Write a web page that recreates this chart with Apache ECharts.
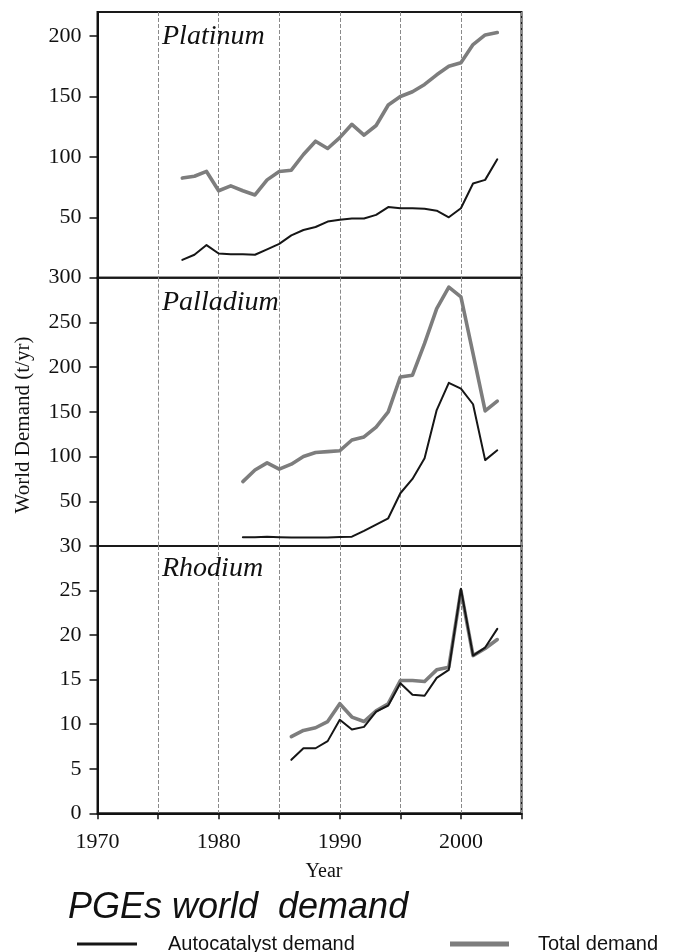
<!DOCTYPE html>
<html>
<head>
<meta charset="utf-8">
<script src="https://cdn.jsdelivr.net/npm/echarts@6/dist/echarts.min.js"></script>
<style>
  html, body { margin: 0; padding: 0; background: #fff; }
  #chart { width: 678px; height: 952px; }
</style>
</head>
<body>
<div id="chart"></div>
<script>
// World demand for platinum-group elements, tonnes per year
const platinumYears = [1977,1978,1979,1980,1981,1982,1983,1984,1985,1986,1987,1988,1989,1990,1991,1992,1993,1994,1995,1996,1997,1998,1999,2000,2001,2002,2003];
const platinumTotal = [82.5,84,88,72,76,72,68.5,81,88,89,102,113,107,116,127,118,126,143,150,154,160,168,175,178,193,201,203];
const platinumAuto  = [14.7,19,27,20,19.5,19.5,19,23.5,28,35,39.5,42,46.5,48,49,49,52,58.5,57.5,57.5,57,55.5,50,57.5,78,81,98];

const palladiumYears = [1982,1983,1984,1985,1986,1987,1988,1989,1990,1991,1992,1993,1994,1995,1996,1997,1998,1999,2000,2001,2002,2003];
const palladiumTotal = [72,85,93,86,91.5,100,104.5,105.5,106.5,118.5,122,133,150,189,191,226.5,265.5,289.5,278.5,215,151,162];
const palladiumAuto  = [9.7,9.7,10.4,9.9,9.4,9.4,9.4,9.4,10,10.4,17,24,31,59,75,98,152,182.5,176,158.5,96,107];

const rhodiumYears = [1986,1987,1988,1989,1990,1991,1992,1993,1994,1995,1996,1997,1998,1999,2000,2001,2002,2003];
const rhodiumTotal = [8.6,9.3,9.6,10.3,12.3,10.8,10.3,11.5,12.3,14.9,14.9,14.8,16.1,16.4,25,17.7,18.5,19.5];
const rhodiumAuto  = [6,7.3,7.3,8.1,10.5,9.4,9.7,11.4,12.1,14.6,13.3,13.2,15.2,16.1,25.2,17.7,18.6,20.7];

const panelNames = ['Platinum', 'Palladium', 'Rhodium'];
const yMax = [220, 300, 30];
const yTickValues = [[50,100,150,200], [50,100,150,200,250,300], [0,5,10,15,20,25,30]];
const xTickLabels = [1970, 1980, 1990, 2000];

const AUTO_NAME = 'Autocatalyst demand';
const TOTAL_NAME = 'Total demand';

const SERIF = '"Liberation Serif", "Times New Roman", serif';
const SANS = '"Liberation Sans", Arial, sans-serif';

function pairs(xs, ys) { return xs.map((x, i) => [x, ys[i]]); }

// panel rectangles (top, height)
const panels = [
  { top: 12, height: 265.7 },
  { top: 277.7, height: 268.3 },
  { top: 546, height: 267.3 }
];

const grids = panels.map(p => ({
  left: 97.5, width: 424, top: p.top, height: p.height,
  show: true, borderColor: '#1a1a1a', borderWidth: 2, backgroundColor: 'transparent',
  containLabel: false
}));

const xAxes = panels.map((p, i) => {
  const last = i === panels.length - 1;
  return {
    type: 'value', gridIndex: i, min: 1970, max: 2005, interval: 5,
    axisLine: { show: last, onZero: false, lineStyle: { color: '#111', width: 2 } },
    axisTick: { show: last, length: 6, lineStyle: { color: '#111', width: 1.5 } },
    axisLabel: {
      show: last, margin: 18, color: '#111', fontFamily: SERIF, fontSize: 22,
      formatter: v => (xTickLabels.indexOf(v) >= 0 ? String(v) : '')
    },
    splitLine: { show: true, lineStyle: { color: '#8a8a8a', width: 1, type: [4, 2] } }
  };
});

const yAxes = panels.map((p, i) => ({
  type: 'value', gridIndex: i, min: 0, max: yMax[i],
  axisLine: { show: true, lineStyle: { color: '#111', width: 2 } },
  axisTick: { show: true, length: 8, customValues: yTickValues[i], lineStyle: { color: '#111', width: 1.5 } },
  axisLabel: {
    show: true, margin: 16, color: '#111', fontFamily: SERIF, fontSize: 22,
    customValues: yTickValues[i]
  },
  splitLine: { show: false }
}));

const TOTAL_STYLE = { color: '#7d7d7d', width: 3.6 };
const AUTO_STYLE = { color: '#161616', width: 2 };

function lineSeries(name, idx, data, style, z) {
  return {
    type: 'line', name: name, xAxisIndex: idx, yAxisIndex: idx, data: data,
    showSymbol: false, symbol: 'none', z: z,
    lineStyle: { color: style.color, width: style.width, join: 'round', cap: 'round' },
    itemStyle: { color: style.color }
  };
}

const series = [
  lineSeries(TOTAL_NAME, 0, pairs(platinumYears, platinumTotal), TOTAL_STYLE, 2),
  lineSeries(AUTO_NAME, 0, pairs(platinumYears, platinumAuto), AUTO_STYLE, 3),
  lineSeries(TOTAL_NAME, 1, pairs(palladiumYears, palladiumTotal), TOTAL_STYLE, 2),
  lineSeries(AUTO_NAME, 1, pairs(palladiumYears, palladiumAuto), AUTO_STYLE, 3),
  lineSeries(TOTAL_NAME, 2, pairs(rhodiumYears, rhodiumTotal), TOTAL_STYLE, 2),
  lineSeries(AUTO_NAME, 2, pairs(rhodiumYears, rhodiumAuto), AUTO_STYLE, 3)
];

// panel names, axis names and the caption
const panelLabelY = [36.5, 302.2, 568.8];
const graphics = panelNames.map((n, i) => ({
  type: 'text', x: 162, y: panelLabelY[i], z: 10,
  style: { text: n, font: 'italic 28px ' + SERIF, fill: '#111', textAlign: 'left', textVerticalAlign: 'middle' }
}));
graphics.push({
  type: 'text', x: 23, y: 425, rotation: Math.PI / 2,
  style: { text: 'World Demand (t/yr)', font: '21px ' + SERIF, fill: '#111', textAlign: 'center', textVerticalAlign: 'middle' }
});
graphics.push({
  type: 'text', x: 324, y: 872,
  style: { text: 'Year', font: '20px ' + SERIF, fill: '#111', textAlign: 'center', textVerticalAlign: 'middle' }
});
graphics.push({
  type: 'text', x: 68, y: 908,
  style: { text: 'PGEs world  demand', font: 'italic 36px ' + SANS, fill: '#111', textAlign: 'left', textVerticalAlign: 'middle' }
});

const legendText = { fontFamily: SANS, fontSize: 20, color: '#111' };

const option = {
  animation: false,
  backgroundColor: '#fff',
  grid: grids,
  xAxis: xAxes,
  yAxis: yAxes,
  series: series,
  legend: [
    {
      left: 77, top: 934, padding: 0, icon: 'rect', itemWidth: 60, itemHeight: 3,
      data: [AUTO_NAME], selectedMode: false,
      textStyle: Object.assign({ padding: [0, 0, 0, 26] }, legendText)
    },
    {
      left: 450, top: 934, padding: 0, icon: 'rect', itemWidth: 59, itemHeight: 5,
      data: [TOTAL_NAME], selectedMode: false,
      textStyle: Object.assign({ padding: [0, 0, 0, 24] }, legendText)
    }
  ],
  graphic: graphics
};

const chart = echarts.init(document.getElementById('chart'), null, { renderer: 'canvas' });
chart.setOption(option);
</script>
</body>
</html>
